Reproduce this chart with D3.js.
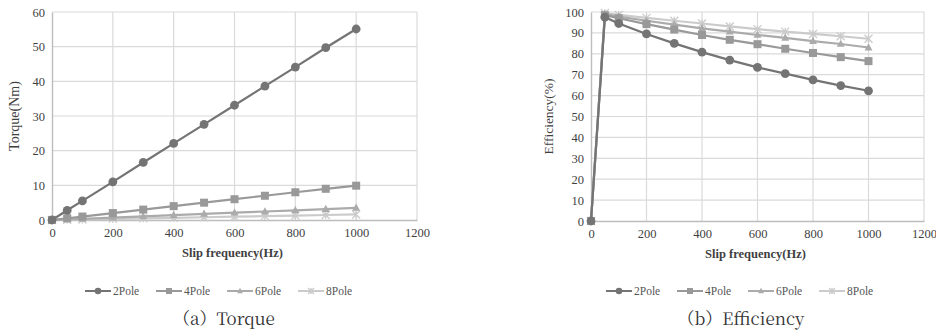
<!DOCTYPE html>
<html>
<head>
<meta charset="utf-8">
<script src="https://cdn.jsdelivr.net/npm/d3@7"></script>
<style>
  body { margin: 0; background: #fff; }
</style>
</head>
<body>
<svg id="chart" width="936" height="331"></svg>
<script>
// Slip frequency sample points (Hz)
const slipFreq = [0, 50, 100, 200, 300, 400, 500, 600, 700, 800, 900, 1000];
const seriesNames = ["2Pole", "4Pole", "6Pole", "8Pole"];

// Torque (Nm) per pole count
const torque2 = [0, 2.8, 5.5, 11.0, 16.6, 22.1, 27.6, 33.1, 38.6, 44.1, 49.7, 55.1];
const torque4 = [0, 0.5, 1.0, 2.0, 3.0, 4.0, 5.0, 6.0, 7.0, 8.0, 9.0, 9.9];
const torque6 = [0, 0.18, 0.35, 0.7, 1.05, 1.4, 1.75, 2.1, 2.45, 2.8, 3.15, 3.5];
const torque8 = [0, 0.08, 0.16, 0.32, 0.48, 0.64, 0.8, 0.96, 1.12, 1.28, 1.44, 1.6];

// Efficiency (%) per pole count
const eff2 = [0, 97.5, 94.5, 89.5, 85.0, 80.8, 77.0, 73.5, 70.5, 67.5, 64.8, 62.3];
const eff4 = [0, 98.5, 97.0, 94.2, 91.6, 89.0, 86.7, 84.6, 82.4, 80.4, 78.4, 76.5];
const eff6 = [0, 99.0, 97.8, 95.8, 94.0, 92.2, 90.6, 89.0, 87.6, 86.1, 84.7, 83.0];
const eff8 = [0, 99.5, 98.6, 97.2, 95.8, 94.5, 93.1, 91.8, 90.6, 89.5, 88.4, 87.2];

const xTicks = [0, 200, 400, 600, 800, 1000, 1200];
const torqueTicks = [0, 10, 20, 30, 40, 50, 60];
const effTicks = [0, 10, 20, 30, 40, 50, 60, 70, 80, 90, 100];

const colors = ["#747474", "#999999", "#ababab", "#cbcbcb"];
const shapes = ["circle", "square", "triangle", "star"];
const textColor = "#3f3f3f";
const serif = "'Liberation Serif', 'Times New Roman', serif";
const captionFont = "'Noto Serif CJK SC', 'Liberation Serif', serif";

const svg = d3.select("#chart").attr("font-family", serif);

function marker(g, shape, color, x, y, s) {
  if (shape === "circle") {
    g.append("circle").attr("cx", x).attr("cy", y).attr("r", s * 0.55).attr("fill", color);
  } else if (shape === "square") {
    g.append("rect").attr("x", x - s * 0.5).attr("y", y - s * 0.5)
      .attr("width", s).attr("height", s).attr("fill", color);
  } else if (shape === "triangle") {
    const h = s * 0.9;
    g.append("path")
      .attr("d", `M${x},${y - h * 0.6}L${x + h * 0.55},${y + h * 0.4}L${x - h * 0.55},${y + h * 0.4}Z`)
      .attr("fill", color);
  } else {
    const r = s * 0.5;
    g.append("path")
      .attr("d", `M${x - r},${y - r}L${x + r},${y + r}M${x - r},${y + r}L${x + r},${y - r}M${x},${y - r}L${x},${y + r}`)
      .attr("stroke", color).attr("stroke-width", 1.3).attr("fill", "none");
  }
}

function drawPanel(opts) {
  const { left, right, top, bottom, yMax, yTicks, series, yLabel, yLabelX, yLabelSize,
          legendX, caption, captionX } = opts;
  const g = svg.append("g");
  const x = d3.scaleLinear().domain([0, 1200]).range([left, right]);
  const y = d3.scaleLinear().domain([0, yMax]).range([bottom, top]);

  // grid
  g.append("g").selectAll("line").data(yTicks.slice(1)).join("line")
    .attr("x1", left).attr("x2", right)
    .attr("y1", d => y(d)).attr("y2", d => y(d))
    .attr("stroke", "#dadada").attr("stroke-width", 1.2);
  g.append("g").selectAll("line").data(xTicks.slice(1)).join("line")
    .attr("x1", d => x(d)).attr("x2", d => x(d))
    .attr("y1", top).attr("y2", bottom)
    .attr("stroke", "#dadada").attr("stroke-width", 1.2);

  // axes
  const xAxis = g.append("g").attr("transform", `translate(0,${bottom})`)
    .call(d3.axisBottom(x).tickValues(xTicks).tickFormat(d3.format("d")).tickSize(0).tickPadding(8));
  const yAxis = g.append("g").attr("transform", `translate(${left},0)`)
    .call(d3.axisLeft(y).tickValues(yTicks).tickFormat(d3.format("d")).tickSize(0).tickPadding(7));
  [xAxis, yAxis].forEach(a => {
    a.attr("font-family", serif);
    a.select(".domain").attr("stroke", "#bdbdbd").attr("stroke-width", 1.4);
    a.selectAll("text").attr("fill", textColor).attr("font-size", 12.5);
  });

  // axis titles
  g.append("text").attr("x", (left + right) / 2 - 2).attr("y", bottom + 37)
    .attr("text-anchor", "middle").attr("font-size", 12.5).attr("font-weight", "bold")
    .attr("fill", textColor).text("Slip frequency(Hz)");
  g.append("text")
    .attr("transform", `translate(${yLabelX},${(top + bottom) / 2}) rotate(-90)`)
    .attr("text-anchor", "middle").attr("font-size", yLabelSize)
    .attr("fill", textColor).text(yLabel);

  // series: lightest first so darker lines sit on top
  const line = d3.line().x((d, i) => x(slipFreq[i])).y(d => y(d));
  for (let k = series.length - 1; k >= 0; k--) {
    g.append("path").datum(series[k]).attr("d", line)
      .attr("fill", "none").attr("stroke", colors[k]).attr("stroke-width", 2.2);
    const mg = g.append("g");
    series[k].forEach((v, i) => marker(mg, shapes[k], colors[k], x(slipFreq[i]), y(v), 8));
  }

  // legend
  const lg = g.append("g").attr("transform", `translate(${legendX},291)`);
  seriesNames.forEach((name, k) => {
    const ox = k * 71;
    lg.append("line").attr("x1", ox).attr("x2", ox + 26).attr("y1", 0).attr("y2", 0)
      .attr("stroke", colors[k]).attr("stroke-width", 2);
    marker(lg, shapes[k], colors[k], ox + 13, 0, 6);
    lg.append("text").attr("x", ox + 28).attr("y", 4).attr("font-size", 11.5)
      .attr("fill", "#555").text(name);
  });

  // caption
  g.append("text").attr("x", captionX).attr("y", 325).attr("text-anchor", "middle")
    .attr("font-family", captionFont).attr("font-size", 17)
    .attr("fill", "#333").text(caption);
}

drawPanel({
  left: 52, right: 417, top: 12, bottom: 220, yMax: 60, yTicks: torqueTicks,
  series: [torque2, torque4, torque6, torque8], yLabel: "Torque(Nm)", yLabelX: 19, yLabelSize: 14,
  legendX: 85, caption: "（a）Torque", captionX: 224
});

drawPanel({
  left: 591, right: 924, top: 12, bottom: 221, yMax: 100, yTicks: effTicks,
  series: [eff2, eff4, eff6, eff8], yLabel: "Efficiency(%)", yLabelX: 553, yLabelSize: 13.5,
  legendX: 606, caption: "（b）Efficiency", captionX: 741
});
</script>
</body>
</html>
